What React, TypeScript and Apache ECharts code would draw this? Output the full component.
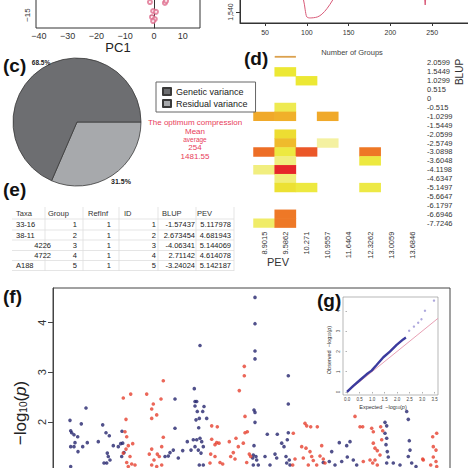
import React, { useEffect, useRef } from 'react';
import * as echarts from 'echarts';

const FONT = 'Liberation Sans, Arial, sans-serif';

// ---------- (a) PCA panel (bottom strip only) ----------
const pcaXTicks = [-40, -30, -20, -10, 0, 10];
const pcaYTicks = [-15];
const pcaPoints = [[-1.4, -10.5], [-0.3, -13.6], [0.7, -13.9], [-0.7, -15.7], [0.3, -16.4], [-0.3, -17.1], [3.8, -10.8], [4.2, -10.1]];

// ---------- (b) Number of groups panel (bottom strip only) ----------
const groupsXTicks = [50, 100, 150, 200, 250];
const groupsYTicks = [1540];
const groupsCurve = [[90, 1562], [96, 1551], [98, 1542], [100, 1535.5], [104, 1534.6], [108, 1534.8], [113, 1535.6], [118, 1538], [124, 1543], [131, 1551], [137, 1560]];
const groupsSpike = [[240, 1560], [241.6, 1546.4], [243, 1560]];

// ---------- (c) variance pie ----------
const varianceNames = ['Genetic variance', 'Residual variance'];
const varianceShares = [68.5, 31.5];
const optimumLines = ['The optimum compression', 'Mean', 'average', '254', '1481.55'];

// ---------- (d) heatmap ----------
const pevLabels = ['8.9015', '9.5862', '10.271', '10.9557', '11.6404', '12.3262', '13.0059', '13.6846'];
const blupLabels = ['2.0599', '1.5449', '1.0299', '0.515', '0', '-0.515', '-1.0299', '-1.5449', '-2.0599', '-2.5749', '-3.0898', '-3.6048', '-4.1198', '-4.6347', '-5.1497', '-5.6647', '-6.1797', '-6.6946', '-7.7246'];
// [pev column, blup row, intensity]
const heatCells = [
  [1, 1, 2.5], [2, 2, 2.5], [1, 5, 2.0],
  [0, 6, 5.3], [1, 6, 5.0], [3, 6, 5.3],
  [1, 8, 3.0], [1, 9, 4.5], [3, 9, 0.6],
  [0, 10, 7.8], [1, 10, 2.3], [2, 10, 8.5], [5, 10, 7.5],
  [1, 11, 1.2], [5, 11, 2.3],
  [0, 12, 1.2], [1, 12, 10],
  [1, 13, 1.3],
  [1, 14, 2.8], [2, 14, 2.3], [5, 14, 2.2],
  [1, 17, 7.5], [0, 18, 1.6], [1, 18, 7.5],
];
const heatTopMark = [[1, 0]];

// ---------- (e) table ----------
const tableHeader = ['Taxa', 'Group', 'RefInf', 'ID', 'BLUP', 'PEV'];
const taxa = ['33-16', '38-11', '4226', '4722', 'A188'];
const groups = ['1', '2', '3', '4', '5'];
const refInf = ['1', '1', '1', '1', '1'];
const ids = ['1', '2', '3', '4', '5'];
const blupValues = ['-1.57437', '2.673454', '-4.06341', '2.71142', '-3.24024'];
const pevValues = ['5.117978', '4.681943', '5.144069', '4.614078', '5.142187'];

// ---------- (f) Manhattan ----------
const manhattanYTicks = [0, 1, 2, 3, 4];
const manhattanYLabels = [2, 3, 4];
const bluePoints = [
  [17, 2.03], [17.7, 1.82], [18.7, 1.78], [21, 1.74], [24.7, 1.70], [17.7, 1.50], [21, 1.50], [22, 1.58], [25, 1.40], [28.3, 1.96], [33, 2.28], [34.3, 1.58], [29.7, 1.50], [17.7, 1.10],
  [45.3, 1.60], [49.7, 1.94], [53, 1.78], [56.3, 1.72], [60.3, 1.52], [54.3, 1.37], [55.3, 1.30], [51, 1.17], [53.7, 1.17], [57, 1.23], [65.3, 1.50], [67.7, 1.56], [69, 1.81], [69.7, 1.57], [71, 1.38], [68.7, 1.30],
  [122, 1.87], [122, 2.46], [117, 1.38], [120.3, 1.43], [115.3, 1.31], [112, 1.30], [125.3, 1.27], [129.7, 1.42], [134.3, 1.60], [138, 1.43], [140.3, 1.64],
  [141.3, 2.67], [142, 2.41], [143.7, 2.41], [142, 2.32], [147, 3.54], [144.3, 2.21], [149.7, 2.21], [143, 2.04], [146.3, 2.07], [153.7, 2.07], [151, 2.31], [145.7, 1.88], [143.7, 1.64], [147, 1.67], [148.7, 1.60], [142, 1.50], [145.3, 1.43], [150.3, 1.50], [148, 1.37], [146.3, 1.13], [150.3, 1.13],
  [202, 4.51], [202, 3.98], [202, 3.43], [202, 3.27], [201, 2.24], [202, 2.19], [202, 1.99], [201, 1.52], [200.3, 1.33], [203, 1.30], [199.7, 1.27], [203.7, 1.23], [200.3, 1.13], [205.3, 1.13],
  [212, 1.30], [214.3, 1.75], [224.3, 1.75], [222, 1.35], [223.7, 1.27], [217, 1.13], [228.7, 1.57], [231, 1.50],
  [235.3, 2.93], [235.3, 2.36], [235.3, 1.78], [234.3, 1.64], [233, 1.30], [236.3, 1.23], [233.7, 1.17], [237, 1.13],
  [278.7, 1.40], [286.3, 1.58], [293.7, 1.52], [297, 1.60], [288.7, 1.20], [294.3, 1.29], [300.3, 1.23], [282, 1.13], [303.7, 1.13], [270.3, 1.18], [276.3, 1.20],
  [332, 1.99], [333.7, 1.92], [332, 1.77], [333.7, 1.67], [333, 1.54], [334.3, 1.40], [335.3, 1.29], [333.7, 1.17], [340.3, 1.17], [347, 1.13],
  [353.7, 2.21], [355.3, 2.05], [356.3, 1.62], [357, 1.43], [355.3, 1.30], [358.7, 1.17], [363, 1.10],
];
const redPoints = [
  [70.3, 2.48], [77.7, 2.56], [73, 2.05], [72, 1.80], [73.7, 1.70], [79.7, 1.56], [75.3, 1.52], [73, 1.45], [70.3, 1.37], [77, 1.30], [73.7, 1.18], [78.7, 1.15], [82, 1.13], [75.3, 1.10],
  [93.7, 2.56], [100.3, 2.36], [98.7, 2.26], [103.7, 2.14], [98.7, 2.07], [108, 2.46], [110.3, 2.83], [110.3, 1.69], [98.7, 1.45], [96.3, 1.35], [104.3, 1.35], [101, 1.23], [108.7, 1.50], [106.3, 1.30], [98.7, 1.13], [103.7, 1.10], [108.7, 1.13],
  [158.7, 1.92], [164.3, 1.90], [158.7, 1.65], [163.7, 1.58], [162, 1.54], [166, 1.57], [157.7, 1.35], [162, 1.30], [157, 1.17], [167, 1.18],
  [176.3, 1.60], [183, 1.67], [185.3, 1.50], [177.7, 1.30], [180.3, 1.38], [182, 1.25], [169.7, 1.15],
  [186.3, 2.63], [191.3, 3.12], [191.3, 2.93], [192, 2.11], [194.3, 1.80], [192, 1.78], [190.3, 1.57], [196.3, 1.35], [197.7, 1.30], [193.7, 1.18],
  [240.3, 1.77], [242, 1.25], [239.7, 1.13],
  [252, 1.97], [253.7, 1.92], [257.7, 1.90], [264.3, 1.90], [248.7, 1.50], [253, 1.47], [257, 1.40], [258.7, 1.30], [250.3, 1.27], [260.3, 1.22], [255.3, 1.13], [263.7, 1.13], [268.7, 1.52], [270.3, 1.25], [267, 1.31], [272, 1.17],
  [302, 2.11], [307, 1.90], [309.7, 1.90], [318.7, 1.87], [320.3, 1.80], [327.7, 1.90], [329.7, 1.82], [328.7, 1.64], [320.3, 1.57], [322, 1.47], [324.3, 1.42], [327, 1.33], [322, 1.23], [324.3, 1.13], [319.7, 1.17], [317, 1.23], [310.3, 1.20],
  [383.7, 1.77], [379.7, 1.70], [380.3, 1.50], [383, 1.43], [369.7, 1.25], [380.3, 1.29], [383, 1.20], [377.7, 1.13], [383.7, 1.10], [370.3, 1.23],
];

// ---------- (g) QQ inset ----------
const qqXTicks = [0, 0.5, 1, 1.5, 2, 2.5, 3, 3.5];
const qqYTicks = [0, 1, 2, 3, 4];
const qqObserved = [[0, 0], [0.25, 0.3], [0.52, 0.59], [0.78, 0.87], [0.98, 1.05], [1.18, 1.33], [1.45, 1.71], [1.71, 1.99], [1.98, 2.32], [2.24, 2.59], [2.35, 2.68]];
const qqTail = [[2.48, 3.02], [2.67, 3.22], [2.84, 3.41], [2.97, 3.58], [3.11, 4.0], [3.47, 4.5]];
const qqReference = [[0, 0], [3.63, 3.63]];

const pieColors: Record<string, string> = { 'Genetic variance': '#6d6e71', 'Residual variance': '#a7a9ac' };
const heatColors = ['#f6f4c4', '#ece834', '#f0b02a', '#ee7826', '#e6262a'];

function txt(x: number, y: number, text: string, o: any = {}) {
  return {
    type: 'text', x, y, rotation: o.rotation || 0, z: 50, silent: true,
    style: {
      text, fill: o.color || '#222', fontSize: o.size || 10, fontWeight: o.weight || 'normal',
      fontFamily: o.family || FONT, fontStyle: o.italic ? 'italic' : 'normal',
      align: o.align || 'left', textAlign: o.align || 'left',
      verticalAlign: 'middle', textVerticalAlign: 'middle', rich: o.rich,
    },
  };
}
function hline(x1: number, x2: number, y: number, color = '#dedede') {
  return { type: 'line', z: 40, silent: true, shape: { x1, y1: y, x2, y2: y }, style: { stroke: color, lineWidth: 0.8 } };
}
function vline(x: number, y1: number, y2: number, color = '#dedede') {
  return { type: 'line', z: 40, silent: true, shape: { x1: x, y1, x2: x, y2 }, style: { stroke: color, lineWidth: 0.8 } };
}

function buildOption() {
  const axisLine = { show: true, lineStyle: { color: '#333', width: 1 } };
  const minus = (v: number) => (v < 0 ? '\u2212' + Math.abs(v) : String(v));

  const graphics: any[] = [];
  graphics.push(txt(3, 65, '(c)', { size: 19, weight: 'bold', color: '#111' }));
  graphics.push(txt(244, 58, '(d)', { size: 19, weight: 'bold', color: '#111' }));
  graphics.push(txt(3, 189, '(e)', { size: 19, weight: 'bold', color: '#111' }));
  graphics.push(txt(3, 296, '(f)', { size: 19, weight: 'bold', color: '#111' }));
  graphics.push(txt(317, 300, '(g)', { size: 19, weight: 'bold', color: '#111' }));
  graphics.push(txt(118, 47, 'PC1', { size: 13, align: 'center', color: '#222' }));
  graphics.push(txt(352, 52, 'Number of Groups', { size: 7.5, align: 'center', color: '#444' }));
  graphics.push(txt(459, 72, 'BLUP', { size: 10, align: 'center', rotation: Math.PI / 2, color: '#333' }));
  graphics.push(txt(278, 262, 'PEV', { size: 11, align: 'center', color: '#333' }));
  graphics.push(txt(41, 62, '68.5%', { size: 6.5, weight: 'bold', align: 'center' }));
  graphics.push(txt(121, 181, '31.5%', { size: 7, weight: 'bold', align: 'center' }));
  const optY = [122, 131.5, 139, 147, 156];
  const optSize = [8, 8, 6.5, 8, 8];
  optimumLines.forEach((t, i) => graphics.push(txt(195, optY[i], t, { size: optSize[i], align: 'center', color: '#e8405a' })));
  graphics.push(txt(20, 413, '{a|\u2212log}{b|10}{a|(}{c|p}{a|)}', {
    align: 'center', rotation: Math.PI / 2,
    rich: {
      a: { fontSize: 17, fontFamily: FONT, fill: '#222', color: '#222', verticalAlign: 'bottom' },
      b: { fontSize: 10, fontFamily: FONT, fill: '#222', color: '#222', verticalAlign: 'bottom' },
      c: { fontSize: 17, fontFamily: FONT, fill: '#222', color: '#222', fontStyle: 'italic', verticalAlign: 'bottom' },
    },
  }));
  const smallRich = {
    a: { fontSize: 5.5, fontFamily: FONT, fill: '#333', color: '#333', verticalAlign: 'bottom' },
    b: { fontSize: 3.8, fontFamily: FONT, fill: '#333', color: '#333', verticalAlign: 'bottom' },
    c: { fontSize: 5.5, fontFamily: FONT, fill: '#333', color: '#333', fontStyle: 'italic', verticalAlign: 'bottom' },
  };
  graphics.push(txt(383, 407, '{a|Expected  \u2212log}{b|10}{a|(}{c|p}{a|)}', { align: 'center', rich: smallRich }));
  graphics.push(txt(329, 350, '{a|Observed  \u2212log}{b|10}{a|(}{c|p}{a|)}', { align: 'center', rotation: Math.PI / 2, rich: smallRich }));

  const headX = [16, 48, 88, 124, 162, 197];
  tableHeader.forEach((h, i) => graphics.push(txt(headX[i], 213, h, { size: 7.5, color: '#333' })));
  const rowY = [224.5, 235, 245.5, 255.5, 265.5];
  taxa.forEach((t, i) => {
    const numeric = /^\d+$/.test(t);
    graphics.push(txt(numeric ? 51 : 16, rowY[i], t, { size: 7.5, align: numeric ? 'right' : 'left' }));
    graphics.push(txt(77, rowY[i], groups[i], { size: 7.5, align: 'right' }));
    graphics.push(txt(111, rowY[i], refInf[i], { size: 7.5, align: 'right' }));
    graphics.push(txt(156, rowY[i], ids[i], { size: 7.5, align: 'right' }));
    graphics.push(txt(195, rowY[i], blupValues[i], { size: 7.5, align: 'right' }));
    graphics.push(txt(231, rowY[i], pevValues[i], { size: 7.5, align: 'right' }));
  });
  [219, 230, 240, 250.5, 260.5, 270.5].forEach((y) => graphics.push(hline(12, 234, y)));
  [45, 83, 119, 158, 196, 234].forEach((x) => graphics.push(vline(x, 207, 271)));

  const heatData = heatCells.map((c) => [c[0], c[1], c[2]]);
  const pieData = [
    { name: varianceNames[1], value: varianceShares[1] },
    { name: varianceNames[0], value: varianceShares[0] },
  ];
  const gridBase = { outerBoundsMode: 'none', containLabel: false };

  return {
    animation: false,
    backgroundColor: '#ffffff',
    textStyle: { fontFamily: FONT },
    legend: {
      data: varianceNames,
      orient: 'vertical', left: 156, top: 82,
      itemWidth: 8, itemHeight: 7, itemGap: 3,
      icon: 'rect',
      borderColor: '#666', borderWidth: 1, padding: [5, 8, 4, 6],
      textStyle: { fontSize: 9, color: '#222', fontFamily: FONT },
      selectedMode: false,
    },
    visualMap: {
      type: 'continuous', show: false, seriesIndex: 4, min: 0, max: 10,
      inRange: { color: heatColors },
    },
    grid: [
      { ...gridBase, left: 36, top: -44, width: 164, height: 72, show: true, borderColor: '#333', borderWidth: 1 },
      { ...gridBase, left: 240, top: -37.5, width: 234, height: 60.5, show: true, borderColor: '#333', borderWidth: 1 },
      { ...gridBase, left: 253.5, top: 58.5, width: 169.6, height: 169.1 },
      { ...gridBase, left: 53, top: 288, width: 397, height: 233, show: true, borderColor: '#444', borderWidth: 1 },
      { ...gridBase, left: 343, top: 297, width: 95, height: 98, show: true, backgroundColor: '#ffffff', borderColor: '#888', borderWidth: 0.6, z: 15 },
    ],
    xAxis: [
      {
        gridIndex: 0, type: 'value', min: -41, max: 16, axisLine, splitLine: { show: false },
        axisTick: { show: true, length: 4, customValues: pcaXTicks, lineStyle: { color: '#333' } },
        axisLabel: { customValues: pcaXTicks, fontSize: 9, color: '#333', margin: 3, formatter: minus },
      },
      {
        gridIndex: 1, type: 'value', min: 20, max: 300, axisLine, splitLine: { show: false },
        axisTick: { show: true, length: 3, customValues: groupsXTicks, lineStyle: { color: '#333' } },
        axisLabel: { customValues: groupsXTicks, fontSize: 7, color: '#333', margin: 6 },
      },
      {
        gridIndex: 2, type: 'category', data: pevLabels, position: 'bottom',
        axisLine: { show: false }, axisTick: { show: false }, splitLine: { show: false },
        axisLabel: { rotate: 90, fontSize: 7.5, color: '#333', margin: 4, interval: 0 },
      },
      { gridIndex: 3, type: 'value', min: 0, max: 397, show: false, splitLine: { show: false } },
      {
        gridIndex: 4, type: 'value', min: -0.16, max: 3.63, z: 20, splitLine: { show: false },
        axisLine: { show: false },
        axisTick: { show: true, length: 1.5, customValues: qqXTicks, lineStyle: { color: '#666', width: 0.5 } },
        axisLabel: { customValues: qqXTicks, fontSize: 4.5, color: '#444', margin: 2, formatter: (v: number) => v.toFixed(1) },
      },
    ],
    yAxis: [
      {
        gridIndex: 0, type: 'value', min: -19.5, max: 5.5, axisLine, splitLine: { show: false },
        axisTick: { show: true, length: 4, customValues: pcaYTicks, lineStyle: { color: '#333' } },
        axisLabel: { customValues: pcaYTicks, fontSize: 8, color: '#333', rotate: 90, margin: 5, formatter: minus },
      },
      {
        gridIndex: 1, type: 'value', min: 1530, max: 1585, axisLine, splitLine: { show: false },
        axisTick: { show: true, length: 4, customValues: groupsYTicks, lineStyle: { color: '#333' } },
        axisLabel: { customValues: groupsYTicks, fontSize: 7, color: '#333', rotate: 90, margin: 6 },
      },
      {
        gridIndex: 2, type: 'category', data: blupLabels, inverse: true, position: 'right',
        axisLine: { show: false }, axisTick: { show: false }, splitLine: { show: false },
        axisLabel: { fontSize: 7.5, color: '#333', margin: 4, interval: 0 },
      },
      {
        gridIndex: 3, type: 'value', min: 0, max: 4.7, splitLine: { show: false },
        axisLine: { show: true, lineStyle: { color: '#444' } },
        axisTick: { show: true, length: 5, customValues: manhattanYTicks, lineStyle: { color: '#444' } },
        axisLabel: { customValues: manhattanYLabels, fontSize: 11, color: '#333', rotate: 90, margin: 6 },
      },
      {
        gridIndex: 4, type: 'value', min: -0.15, max: 4.68, z: 20, splitLine: { show: false },
        axisLine: { show: false },
        axisTick: { show: true, length: 1.5, customValues: qqYTicks, lineStyle: { color: '#666', width: 0.5 } },
        axisLabel: { customValues: qqYTicks, fontSize: 4.5, color: '#444', rotate: 90, margin: 2 },
      },
    ],
    series: [
      {
        type: 'scatter', xAxisIndex: 0, yAxisIndex: 0, data: pcaPoints, symbol: 'emptyCircle', symbolSize: 4,
        itemStyle: { color: '#e07090', borderColor: '#e07090', borderWidth: 0.8 },
      },
      {
        type: 'line', xAxisIndex: 1, yAxisIndex: 1, data: groupsCurve, showSymbol: false, smooth: 0.3,
        lineStyle: { color: '#d85a78', width: 1 },
      },
      {
        type: 'line', xAxisIndex: 1, yAxisIndex: 1, data: groupsSpike, showSymbol: false,
        lineStyle: { color: '#d85a78', width: 1 },
      },
      {
        type: 'pie', center: [77, 122], radius: 64, startAngle: 0, clockwise: true,
        data: pieData, label: { show: false }, labelLine: { show: false }, silent: true,
        itemStyle: { color: (p: any) => pieColors[p.name], borderColor: '#3a3a3a', borderWidth: 0.8 },
      },
      {
        type: 'heatmap', xAxisIndex: 2, yAxisIndex: 2, data: heatData,
        itemStyle: { borderWidth: 0 },
      },
      {
        type: 'custom', xAxisIndex: 2, yAxisIndex: 2, data: heatTopMark,
        renderItem: (params: any, api: any) => {
          const p = api.coord([api.value(0), api.value(1)]);
          const s = api.size([1, 1]);
          return {
            type: 'rect',
            shape: { x: p[0] - s[0] / 2, y: p[1] - s[1] / 2 - 2.6, width: s[0], height: 1.8 },
            style: { fill: '#dba14e' },
          };
        },
      },
      {
        type: 'scatter', xAxisIndex: 3, yAxisIndex: 3, data: bluePoints, symbolSize: 3.6,
        itemStyle: { color: '#26266e' }, z: 2,
      },
      {
        type: 'scatter', xAxisIndex: 3, yAxisIndex: 3, data: redPoints, symbolSize: 3.6,
        itemStyle: { color: '#e6412f' }, z: 2,
      },
      {
        type: 'line', xAxisIndex: 4, yAxisIndex: 4, data: qqReference, showSymbol: false, z: 21,
        lineStyle: { color: '#e8a0b4', width: 1 },
      },
      {
        type: 'line', xAxisIndex: 4, yAxisIndex: 4, data: qqObserved, showSymbol: false, z: 22,
        lineStyle: { color: '#3b3b9e', width: 2.4 },
      },
      {
        type: 'scatter', xAxisIndex: 4, yAxisIndex: 4, data: qqTail, symbolSize: 2.4, z: 22,
        itemStyle: { color: '#9a92d4' },
      },
    ],
    graphic: graphics,
  };
}

export default function App() {
  const ref = useRef<HTMLDivElement>(null);
  useEffect(() => {
    if (!ref.current) return;
    const chart = echarts.init(ref.current, undefined, { renderer: 'svg' });
    chart.setOption(buildOption() as any);
    return () => chart.dispose();
  }, []);
  return (
    <div
      ref={ref}
      style={{ position: 'fixed', left: 0, top: 0, width: 468, height: 468, background: '#fff' }}
    />
  );
}
